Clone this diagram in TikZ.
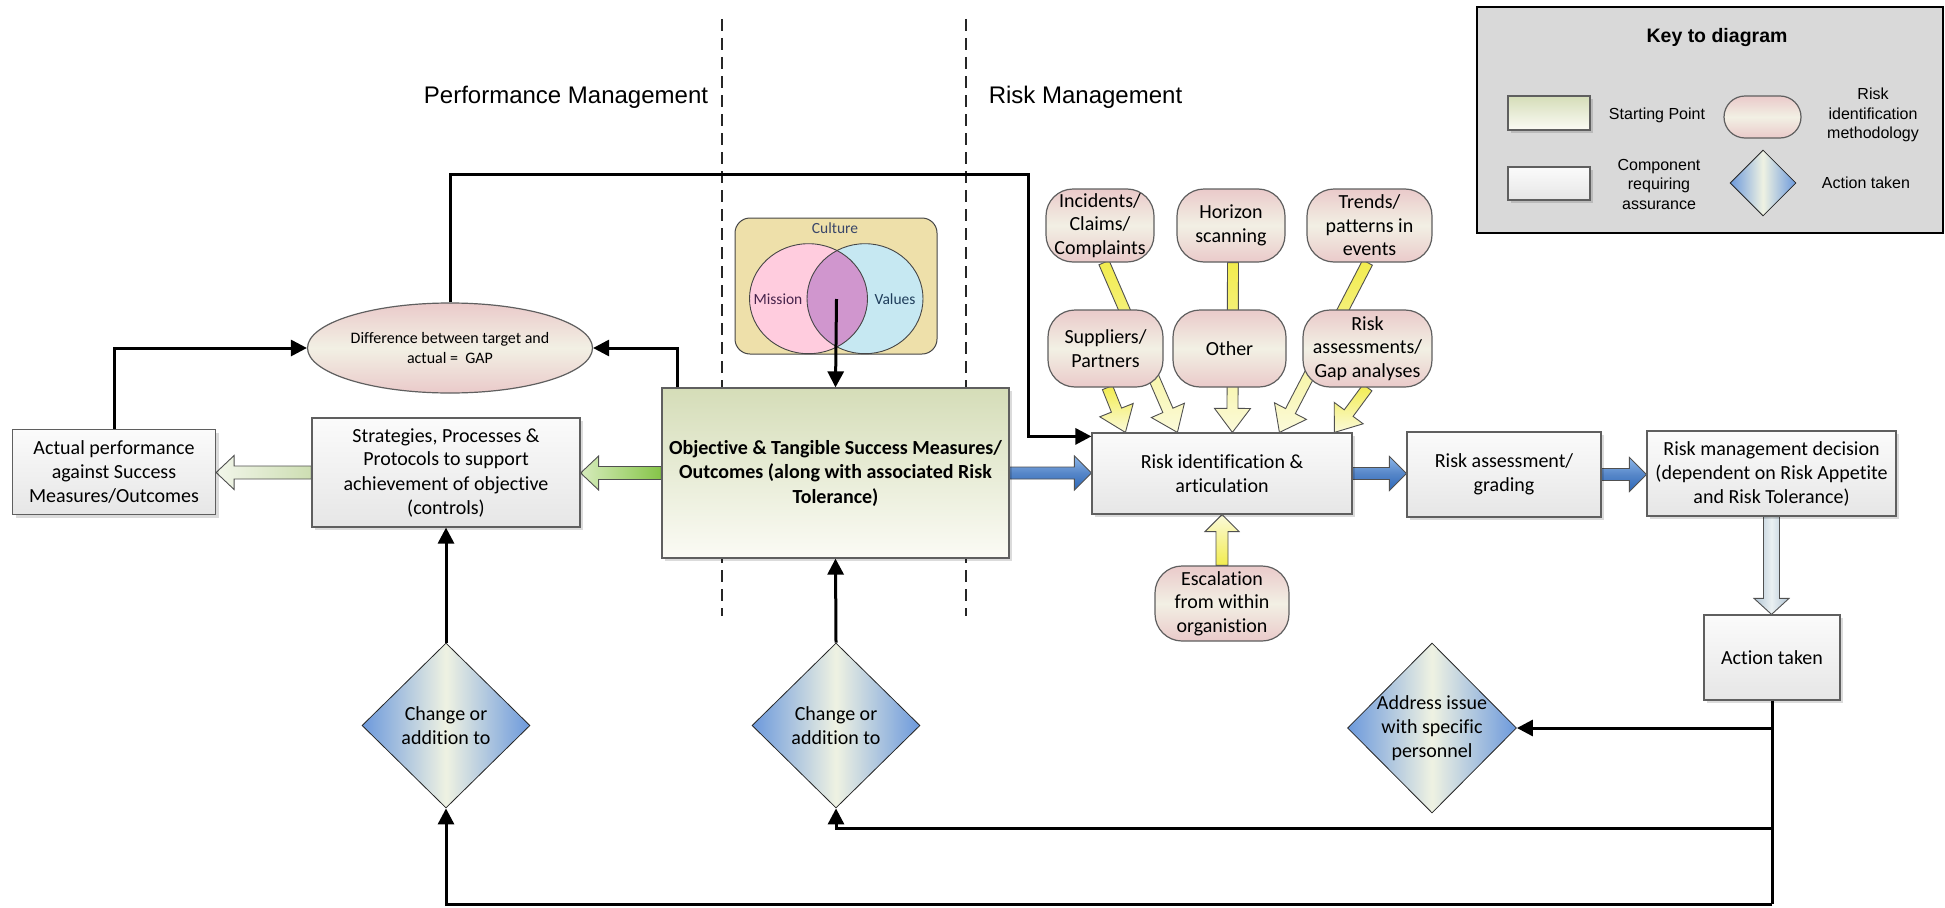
\documentclass[tikz,border=0pt]{standalone}
\usepackage{fontspec}
\setmainfont{Carlito}[Ligatures=NoCommon]
\newfontfamily\arialf{Liberation Sans}
\usetikzlibrary{arrows.meta,calc,shapes.geometric,shadows,backgrounds}

\definecolor{boxline}{RGB}{95,95,95}
\definecolor{compT}{RGB}{251,251,251}
\definecolor{compB}{RGB}{230,230,230}
\definecolor{greenT}{RGB}{213,221,184}
\definecolor{greenB}{RGB}{251,251,245}
\definecolor{pinkA}{RGB}{234,202,202}
\definecolor{creamB}{RGB}{242,240,228}
\definecolor{diaE}{RGB}{108,153,220}
\definecolor{diaM}{RGB}{239,242,226}
\definecolor{yelS}{RGB}{242,236,78}
\definecolor{yelH}{RGB}{251,250,218}
\definecolor{blueT}{RGB}{140,182,234}
\definecolor{blueB}{RGB}{44,104,186}
\definecolor{greenS}{RGB}{134,196,72}
\definecolor{greenH}{RGB}{214,236,188}
\definecolor{pgS}{RGB}{205,222,178}
\definecolor{pgH}{RGB}{242,246,234}
\definecolor{vgE}{RGB}{176,196,212}
\definecolor{vgM}{RGB}{234,240,242}
\definecolor{arrline}{RGB}{80,80,80}
\definecolor{keyfill}{RGB}{217,217,217}
\definecolor{cultureC}{RGB}{238,224,170}
\definecolor{missionC}{RGB}{255,204,222}
\definecolor{valuesC}{RGB}{198,232,242}
\definecolor{interC}{RGB}{208,150,206}
\definecolor{vennline}{RGB}{70,70,70}
\definecolor{cultxt}{RGB}{58,70,105}
\definecolor{mistxt}{RGB}{70,35,75}
\definecolor{valtxt}{RGB}{30,60,90}

\tikzset{
  comp/.style={draw=boxline, line width=1.2pt, top color=compT, bottom color=compB,
    align=center, font=\fontsize{20}{24}\selectfont, inner sep=0pt,
    drop shadow={shadow xshift=3pt,shadow yshift=-3pt,fill=black,opacity=0.14}},
  startbox/.style={comp, top color=greenT, bottom color=greenB},
  pill/.style={draw=boxline, line width=1.2pt, rounded corners=27pt, top color=pinkA,
    bottom color=pinkA, middle color=creamB, align=center, inner sep=0pt,
    font=\fontsize{20}{23.5}\selectfont},
  gapell/.style={shape=ellipse, draw=boxline, line width=1.2pt, top color=pinkA,
    bottom color=pinkA, middle color=creamB, align=center, inner sep=0pt,
    font=\fontsize{16}{20}\selectfont},
  dia/.style={shape=diamond, draw=black!85, line width=0.8pt, left color=diaE,
    right color=diaE, middle color=diaM, inner sep=0pt},
  diatxt/.style={align=center, font=\fontsize{20}{24}\selectfont},
  keytxt/.style={align=center, font=\arialf\fontsize{16}{19.5}\selectfont},
  hdr/.style={font=\arialf\fontsize{24}{28}\selectfont, inner sep=0pt},
  conn/.style={line width=3pt, -{Triangle[length=16pt,width=16pt]}},
  plainline/.style={line width=3pt},
  sepline/.style={line width=1.5pt, dash pattern=on 12pt off 7pt, black!85},
  yarrow/.style={draw=arrline, line width=0.9pt, top color=yelS, bottom color=yelH},
  yarrowup/.style={draw=arrline, line width=0.9pt, top color=yelH, bottom color=yelS},
  barrow/.style={draw=arrline, line width=0.9pt, top color=blueT, bottom color=blueB, middle color=blueB!80!white},
  garrow/.style={draw=arrline, line width=0.9pt, left color=greenH, right color=greenS},
  pgarrow/.style={draw=arrline, line width=0.9pt, left color=pgH, right color=pgS},
  vgarrow/.style={draw=arrline, line width=0.9pt, left color=vgE, right color=vgE, middle color=vgM},
  venntxt/.style={font=\fontsize{15.5}{18}\selectfont, inner sep=0pt}
}

% fat block arrow from #1 to #2 (tip), shaft half-width #3, head half-width #4, head length #5, style #6
\newcommand\fatarrow[6]{%
  \coordinate (fa-h) at ($(#2)!#5!(#1)$);
  \path[#6] ($(#1)!#3!90:(#2)$) -- ($(fa-h)!#3!-90:(#1)$) -- ($(fa-h)!#4!-90:(#1)$)
    -- (#2) -- ($(fa-h)!#4!90:(#1)$) -- ($(fa-h)!#3!90:(#1)$) -- ($(#1)!#3!-90:(#2)$) -- cycle;
}

\begin{document}
\begin{tikzpicture}[x=1pt,y=-1pt]
\useasboundingbox (0,0) rectangle (1945,907);

% ---------- headers ----------
\node[hdr, anchor=base] (hpm) at (566,103) {Performance Management};
\node[hdr, anchor=base] (hrm) at (1085.5,103) {Risk Management};

% ---------- key ----------
\node[draw=black, line width=1.8pt, fill=keyfill, minimum width=466, minimum height=226, inner sep=0pt] (key) at (1710,120) {};
\node[font=\arialf\bfseries\fontsize{19.5}{23}\selectfont] (keyt) at (1717,38) {Key to diagram};
\node[startbox, minimum width=82, minimum height=34] (k1) at (1549,113) {};
\node[keytxt] (k1t) at (1657,115) {Starting Point};
\node[pill, rounded corners=21pt, minimum width=77, minimum height=42] (k2) at (1762.5,117) {};
\node[keytxt] (k2t) at (1873,115) {Risk\\identification\\methodology};
\node[comp, minimum width=82, minimum height=33] (k3) at (1549,183.5) {};
\node[keytxt] (k3t) at (1659,184) {Component\\requiring\\assurance};
\node[dia, minimum width=66, minimum height=66] (k4) at (1763,183) {};
\node[keytxt] (k4t) at (1866,183) {Action taken};

% ---------- main boxes ----------
\node[comp, minimum width=203, minimum height=85] (actual) at (114,472) {Actual performance\\against Success\\Measures/Outcomes};
\node[comp, minimum width=268, minimum height=109] (strat) at (446,472.5) {Strategies, Processes \&\\Protocols to support\\achievement of objective\\(controls)};
\node[startbox, minimum width=347, minimum height=170, font=\bfseries\fontsize{20}{24.5}\selectfont] (obj) at (835.5,473) {Objective \& Tangible Success Measures/\\Outcomes (along with associated Risk\\Tolerance)};
\node[comp, minimum width=260, minimum height=81] (riskid) at (1222,473.5) {Risk identification \&\\articulation};
\node[comp, minimum width=194, minimum height=85] (riskass) at (1504,474.5) {Risk assessment/\\grading};
\node[comp, minimum width=249, minimum height=85] (decision) at (1771.5,473.5) {Risk management decision\\(dependent on Risk Appetite\\and Risk Tolerance)};
\node[comp, minimum width=136, minimum height=85] (action) at (1772,657.5) {Action taken};

\node[gapell, minimum width=285, minimum height=90] (gap) at (450,348) {Difference between target and\\actual =\ \ GAP};

% ---------- risk identification methodology pills ----------
\node[pill, minimum width=108, minimum height=73] (inc) at (1100,225.5) {Incidents/\\Claims/\\Complaints};
\node[pill, minimum width=108, minimum height=73] (hor) at (1231,225.5) {Horizon\\scanning};
\node[pill, minimum width=125, minimum height=73] (trend) at (1369.5,225.5) {Trends/\\patterns in\\events};
\node[pill, minimum width=115, minimum height=77] (sup) at (1105.5,348.5) {Suppliers/\\Partners};
\node[pill, minimum width=113, minimum height=77] (other) at (1229.5,348.5) {Other};
\node[pill, minimum width=129, minimum height=77] (rass) at (1367.5,348.5) {Risk\\assessments/\\Gap analyses};
\node[pill, minimum width=134, minimum height=75] (esc) at (1222,603.5) {Escalation\\from within\\organistion};

% ---------- diamonds ----------
\node[dia, minimum width=168, minimum height=165, label={[diatxt]center:Change or\\addition to}] (d1) at (446,725.5) {};
\node[dia, minimum width=168, minimum height=165, label={[diatxt]center:Change or\\addition to}] (d2) at (836,725.5) {};
\node[dia, minimum width=169, minimum height=170, label={[diatxt]center:Address issue\\with specific\\personnel}] (d3) at (1432,728) {};

% ---------- culture / Venn ----------
\node[draw=vennline, line width=1pt, fill=cultureC, rounded corners=15pt, minimum width=202, minimum height=136, inner sep=0pt] (culture) at (836,286) {};
\node[venntxt, text=cultxt] (cult) at (835,228) {Culture};
\fill[missionC] (808.5,298.7) ellipse [x radius=59, y radius=55];
\fill[valuesC] (865,298.7) ellipse [x radius=58, y radius=55];
\begin{scope}
  \clip (808.5,298.7) ellipse [x radius=59, y radius=55];
  \fill[interC] (865,298.7) ellipse [x radius=58, y radius=55];
\end{scope}
\draw[vennline, line width=0.9pt] (808.5,298.7) ellipse [x radius=59, y radius=55];
\draw[vennline, line width=0.9pt] (865,298.7) ellipse [x radius=58, y radius=55];
\node[venntxt, text=mistxt] (mis) at (778,299) {Mission};
\node[venntxt, text=valtxt] (val) at (895,299) {Values};
\coordinate (vc) at (836.5,299);
\draw[conn] (vc) -- (obj.north);

% ---------- background: separators and block arrows ----------
\begin{scope}[on background layer]
  \draw[sepline] (722,19) -- (722,616);
  \draw[sepline] (966,19) -- (966,616);

  \coordinate (ya1) at ([xshift=4pt]inc.south);
  \coordinate (yb1) at ([xshift=86pt]riskid.north west);
  \coordinate (ya2) at ([xshift=2pt]sup.south);
  \coordinate (yb2) at ([xshift=34pt]riskid.north west);
  \coordinate (ya3) at ([xshift=2pt]hor.south);
  \coordinate (yb3) at ([xshift=141pt]riskid.north west);
  \coordinate (ya4) at ([xshift=-2pt]trend.south);
  \coordinate (yb4) at ([xshift=188pt]riskid.north west);
  \coordinate (ya5) at (rass.south);
  \coordinate (yb5) at ([xshift=243pt]riskid.north west);
  \fatarrow{ya1}{yb1}{5.5pt}{18pt}{24pt}{yarrow}
  \fatarrow{ya2}{yb2}{5.5pt}{18pt}{24pt}{yarrow}
  \fatarrow{ya3}{yb3}{5.5pt}{18pt}{24pt}{yarrow}
  \fatarrow{ya4}{yb4}{5.5pt}{18pt}{24pt}{yarrow}
  \fatarrow{ya5}{yb5}{5.5pt}{18pt}{24pt}{yarrow}
  \fatarrow{esc.north}{riskid.south}{6pt}{17pt}{17pt}{yarrowup}

  \coordinate (ba1) at (obj.east);
  \coordinate (bb1) at (obj.east -| riskid.west);
  \fatarrow{ba1}{bb1}{6pt}{17pt}{17pt}{barrow}
  \coordinate (ba3) at (riskid.east);
  \coordinate (bb3) at (riskid.east -| riskass.west);
  \fatarrow{ba3}{bb3}{6pt}{17pt}{17pt}{barrow}
  \coordinate (ba2) at (riskass.east);
  \coordinate (bb2) at (riskass.east -| decision.west);
  \fatarrow{ba2}{bb2}{6pt}{17pt}{17pt}{barrow}
  \coordinate (va1) at (decision.south);
  \coordinate (vb1) at (decision.south |- action.north);
  \fatarrow{va1}{vb1}{8pt}{17.5pt}{16pt}{vgarrow}
  \coordinate (ga1) at (obj.west);
  \coordinate (gb1) at (obj.west -| strat.east);
  \fatarrow{ga1}{gb1}{6.5pt}{17pt}{18pt}{garrow}
  \coordinate (ga2) at (strat.west);
  \coordinate (gb2) at (strat.west -| actual.east);
  \fatarrow{ga2}{gb2}{6.5pt}{17pt}{18pt}{pgarrow}
\end{scope}

% ---------- connectors ----------
\coordinate (t1) at (1028,174);
\draw[conn] (gap.north) |- (t1) |- ([yshift=-4pt]riskid.north west);
\draw[conn] (actual.north) |- (gap.west);
\draw[conn] ([xshift=16pt]obj.north west) |- (gap.east);
\draw[conn] (d1.north) -- (strat.south);
\draw[conn] (d2.north) -- (obj.south);
\coordinate (b1) at (1772,904);
\coordinate (b2) at (1772,828);
\draw[plainline] (action.south) -- (b1);
\draw[conn] (b1) -| (d1.south);
\draw[conn] (b2) -| (d2.south);
\draw[conn] (action.south |- d3.east) -- (d3.east);
\end{tikzpicture}
\end{document}
